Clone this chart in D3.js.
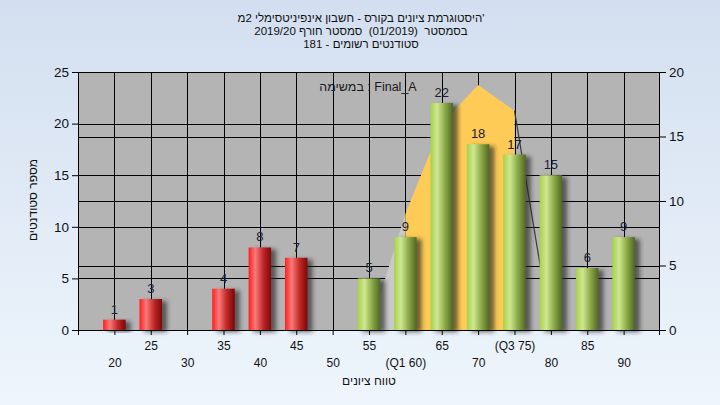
<!DOCTYPE html>
<html><head><meta charset="utf-8">
<script src="https://cdn.jsdelivr.net/npm/d3@7/dist/d3.min.js"></script>
<style>
html,body{margin:0;padding:0;overflow:hidden;}
svg{display:block;font-family:"Liberation Sans",Arial,sans-serif;}
text{white-space:pre;}
</style></head>
<body><svg id="c" width="720" height="405"></svg>
<script>
const titleLines = ["היסטוגרמת ציונים בקורס - חשבון אינפיניטסימלי 2מ'",
                    "בסמסטר  (01/2019)  סמסטר חורף 2019/20",
                    "סטודנטים רשומים - 181"];
const grades = [20,25,30,35,40,45,50,55,60,65,70,75,80,85,90];
const counts = [1,3,0,4,8,7,0,5,9,22,18,17,15,6,9];
const tickLabels = ["20","25","30","35","40","45","50","55","(Q1 60)","65","70","(Q3 75)","80","85","90"];
const leftTicks = [0,5,10,15,20,25];
const rightTicks = [0,5,10,15,20];
const curveGrades = [55,60,65,70,75,80];
const curveValues = [0,9,16,19,17,0];
const passMark = 55, q1 = 60, q3 = 75;
const legendText = "במשימה : Final_A";
const xTitle = "טווח ציונים";
const yTitle = "מספר סטודנטים";

const svg = d3.select("#c");
const defs = svg.append("defs");
const bg = defs.append("linearGradient").attr("id","bg").attr("x1",0).attr("y1",0).attr("x2",0).attr("y2",1);
bg.append("stop").attr("offset","0%").attr("stop-color","#d3dff0");
bg.append("stop").attr("offset","100%").attr("stop-color","#eef5fc");
function cyl(id, c0, c1, c2, c3){
  const g = defs.append("linearGradient").attr("id",id).attr("x1",0).attr("y1",0).attr("x2",1).attr("y2",0);
  g.append("stop").attr("offset","0%").attr("stop-color",c0);
  g.append("stop").attr("offset","30%").attr("stop-color",c1);
  g.append("stop").attr("offset","65%").attr("stop-color",c2);
  g.append("stop").attr("offset","100%").attr("stop-color",c3);
}
cyl("red","#ff2020","#f87a7a","#c02828","#7a0808");
cyl("green","#a6d14a","#cfe792","#8aa845","#4e6626");
const f = defs.append("filter").attr("id","sh").attr("x","-30%").attr("y","-10%").attr("width","180%").attr("height","130%");
f.append("feDropShadow").attr("dx",5).attr("dy",2).attr("stdDeviation",2).attr("flood-color","#202020").attr("flood-opacity",0.65);

svg.append("rect").attr("width",720).attr("height",405).attr("fill","url(#bg)");

const L = 78, R = 660, T = 72, B = 330;
const x = d3.scaleLinear().domain([15,95]).range([L,R]);
const yL = d3.scaleLinear().domain([0,25]).range([B,T]);
const yR = d3.scaleLinear().domain([0,20]).range([B,T]);

// title
svg.append("g").selectAll("text").data(titleLines).join("text")
  .attr("x",361).attr("y",(d,i)=>22+i*13).attr("text-anchor","middle")
  .attr("font-size",11.5).attr("fill","#101010").text(d=>d);

svg.append("rect").attr("x",L).attr("y",T).attr("width",R-L).attr("height",B-T).attr("fill","#b4b4b4");

// gridlines
const grid = svg.append("g").attr("stroke","#000").attr("stroke-width",1);
grid.selectAll("line.v").data(grades).join("line").attr("class","v")
  .attr("x1",d=>Math.round(x(d))+0.5).attr("x2",d=>Math.round(x(d))+0.5).attr("y1",T).attr("y2",B);
grid.selectAll("line.hl").data(leftTicks.slice(1,-1)).join("line").attr("class","hl")
  .attr("x1",L).attr("x2",R).attr("y1",d=>Math.round(yL(d))+0.5).attr("y2",d=>Math.round(yL(d))+0.5);
grid.selectAll("line.hr").data(rightTicks.slice(1,-1)).join("line").attr("class","hr")
  .attr("x1",L).attr("x2",R).attr("y1",d=>Math.round(yR(d))+0.5).attr("y2",d=>Math.round(yR(d))+0.5);

// curve
const pts = curveGrades.map((g,i)=>[g,curveValues[i]]);
const area = d3.area().x(d=>x(d[0])).y0(yR(0)).y1(d=>yR(d[1]));
svg.append("path").datum(pts.filter(p=>p[0]<=q1)).attr("d",area).attr("fill","#c9c9c9");
svg.append("path").datum(pts.filter(p=>p[0]>=q1&&p[0]<=q3)).attr("d",area).attr("fill","#fecb56");
svg.append("path").datum(pts.filter(p=>p[0]>=q3)).attr("d",d3.line().x(d=>x(d[0])).y(d=>yR(d[1])))
  .attr("fill","none").attr("stroke","#3a3a3a").attr("stroke-width",1.2);

// bars
const bw = x(1.55)-x(-1.55);
const data = grades.map((g,i)=>({g,c:counts[i]})).filter(d=>d.c>0);
svg.append("g").selectAll("rect").data(data).join("rect")
  .attr("x",d=>x(d.g)-bw/2).attr("width",bw)
  .attr("y",d=>yL(d.c)).attr("height",d=>yL(0)-yL(d.c))
  .attr("fill",d=>d.g<passMark?"url(#red)":"url(#green)")
  .attr("filter","url(#sh)");
svg.append("g").selectAll("text").data(data).join("text")
  .attr("x",d=>x(d.g)).attr("y",d=>yL(d.c)-6).attr("text-anchor","middle")
  .attr("font-size",13).attr("fill","#1c1c36").text(d=>d.c);

// legend
svg.append("text").attr("x",368).attr("y",91).attr("text-anchor","middle")
  .attr("font-size",12.5).attr("fill","#1a1a1a").text(legendText);

// axes
function style(g){ g.selectAll("path,line").attr("stroke","#000"); g.select(".domain").remove(); }
const axL = svg.append("g").attr("transform",`translate(${L},0)`)
  .call(d3.axisLeft(yL).tickValues(leftTicks).tickSize(6).tickPadding(3));
style(axL); axL.selectAll("text").attr("font-size",13.5).attr("fill","#111").attr("font-family","Liberation Sans, Arial");
const axR = svg.append("g").attr("transform",`translate(${R},0)`)
  .call(d3.axisRight(yR).tickValues(rightTicks).tickSize(6).tickPadding(3));
style(axR); axR.selectAll("text").attr("font-size",13.5).attr("fill","#111").attr("font-family","Liberation Sans, Arial");
const axB = svg.append("g").attr("transform",`translate(0,${B})`)
  .call(d3.axisBottom(x).tickValues(grades).tickSize(5).tickFormat((d,i)=>tickLabels[i]));
style(axB);
axB.selectAll("text").attr("font-size",12).attr("fill","#111").attr("font-family","Liberation Sans, Arial")
  .attr("dy",null).attr("y",(d,i)=>i%2===1?20:37);

// frame
svg.append("rect").attr("x",L+0.5).attr("y",T+0.5).attr("width",R-L-1).attr("height",B-T)
  .attr("fill","none").attr("stroke","#000");
svg.append("line").attr("x1",L+0.5).attr("x2",L+0.5).attr("y1",B).attr("y2",B+5).attr("stroke","#000");
svg.append("line").attr("x1",R-0.5).attr("x2",R-0.5).attr("y1",B).attr("y2",B+5).attr("stroke","#000");

// axis titles
svg.append("text").attr("x",369).attr("y",385).attr("text-anchor","middle")
  .attr("font-size",12).attr("fill","#111").text(xTitle);
svg.append("text").attr("transform","translate(37,200) rotate(-90)").attr("text-anchor","middle")
  .attr("font-size",12).attr("fill","#111").text(yTitle);
</script></body></html>
